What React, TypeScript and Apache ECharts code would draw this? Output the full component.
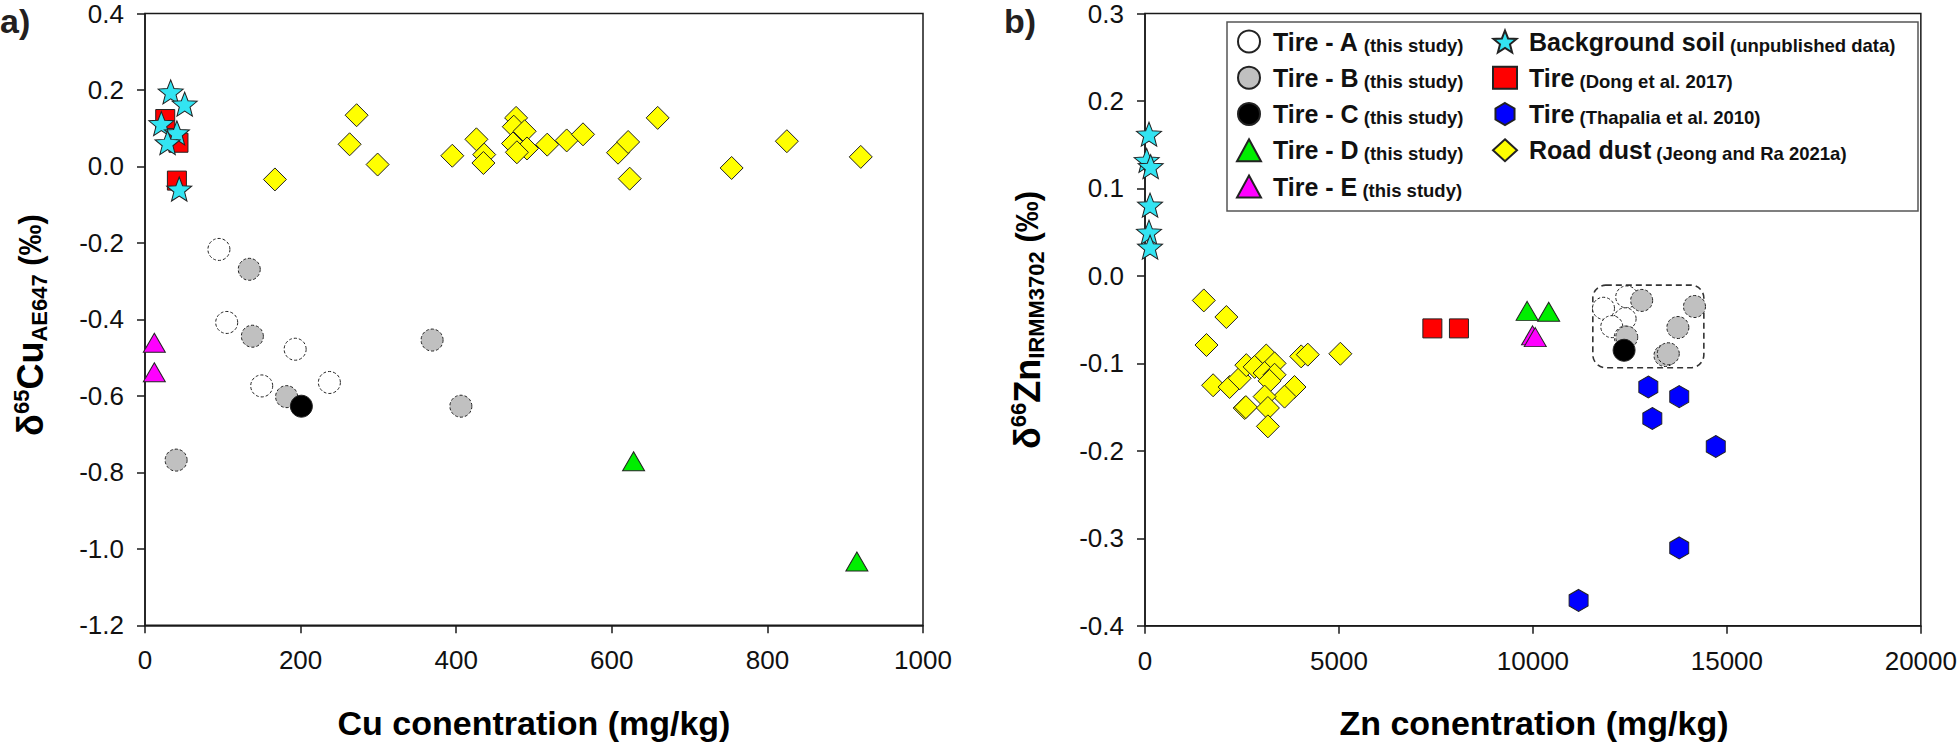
import React, { useEffect, useRef } from 'react';
import * as echarts from 'echarts';

const FONT = 'Arial, "Liberation Sans", Helvetica, sans-serif';

// ---------- names ----------
const N_A = 'Tire - A (this study)';
const N_B = 'Tire - B (this study)';
const N_C = 'Tire - C (this study)';
const N_D = 'Tire - D (this study)';
const N_E = 'Tire - E (this study)';
const N_SOIL = 'Background soil (unpublished data)';
const N_DONG = 'Tire (Dong et al. 2017)';
const N_THAP = 'Tire (Thapalia et al. 2010)';
const N_DUST = 'Road dust (Jeong and Ra 2021a)';

// ---------- axis ticks ----------
const cuTicks = { min: 0, max: 1000, interval: 200 };
const cuDeltaTicks = { min: -1.2, max: 0.4, interval: 0.2 };
const znTicks = { min: 0, max: 20000, interval: 5000 };
const znDeltaTicks = { min: -0.4, max: 0.3, interval: 0.1 };

// ---------- panel a: Cu (mg/kg), d65Cu ----------
const tireA_Cu = [[95, -0.217], [105, -0.408], [193, -0.478], [237, -0.565], [150, -0.574]];
const tireB_Cu = [[134, -0.269], [138, -0.444], [369, -0.454], [182, -0.602], [406, -0.627], [40, -0.768]];
const tireC_Cu = [[201, -0.627]];
const tireD_Cu = [[628, -0.771], [915, -1.033]];
const tireE_Cu = [[12, -0.461], [12, -0.538]];
const soil_Cu = [[33, 0.195], [51, 0.163], [21, 0.112], [41, 0.088], [29, 0.062], [44, -0.059]];
const dong_Cu = [[26, 0.124], [43, 0.062], [41, -0.037]];
const thap_Cu: number[][] = [];
const dust_Cu = [
  [167, -0.034], [263, 0.058], [272, 0.134], [299, 0.005], [395, 0.028], [426, 0.071],
  [436, 0.031], [435, 0.009], [477, 0.127], [474, 0.104], [488, 0.092], [473, 0.060],
  [491, 0.047], [478, 0.037], [517, 0.057], [542, 0.068], [563, 0.084], [608, 0.036],
  [621, 0.064], [623, -0.032], [659, 0.127], [754, -0.004], [825, 0.066], [920, 0.025],
];

// ---------- panel b: Zn (mg/kg), d66Zn ----------
const tireA_Zn = [[11819, -0.037], [12418, -0.024], [12376, -0.049], [12033, -0.058], [12380, -0.070]];
const tireB_Zn = [[12803, -0.028], [14165, -0.035], [13736, -0.059], [12418, -0.070], [13404, -0.091], [13489, -0.089]];
const tireC_Zn = [[12350, -0.085]];
const tireD_Zn = [[9850, -0.040], [10406, -0.041]];
const tireE_Zn = [[9990, -0.068], [10060, -0.070]];
const soil_Zn = [[103, 0.162], [43, 0.132], [146, 0.125], [130, 0.081], [103, 0.050], [130, 0.033]];
const dong_Zn = [[7408, -0.060], [8093, -0.060]];
const thap_Zn = [[12975, -0.127], [13772, -0.138], [13078, -0.163], [14713, -0.195], [13772, -0.311], [11177, -0.371]];
const dust_Zn = [
  [1516, -0.028], [2098, -0.047], [1585, -0.079], [4026, -0.092], [4197, -0.090], [5036, -0.089],
  [1756, -0.125], [2181, -0.127], [2441, -0.117], [2612, -0.102], [2826, -0.104], [3126, -0.091],
  [3340, -0.100], [3083, -0.111], [3340, -0.113], [3210, -0.120], [3854, -0.127], [3597, -0.138],
  [3083, -0.138], [2569, -0.151], [2600, -0.150], [3168, -0.151], [3168, -0.172],
];

// dashed grouping box in panel b (Zn, d66Zn)
const zoneBoxX = [11544, 14406];
const zoneBoxY = [-0.105, -0.0105];

// ---------- symbols ----------
const starPath = (() => {
  const pts: string[] = [];
  for (let i = 0; i < 10; i++) {
    const r = i % 2 === 0 ? 10 : 4.3;
    const a = -Math.PI / 2 + (i * Math.PI) / 5;
    pts.push(`${(r * Math.cos(a)).toFixed(3)},${(r * Math.sin(a)).toFixed(3)}`);
  }
  return 'path://M' + pts.join('L') + 'Z';
})();
const hexPath = 'path://M0,-10L8.66,-5L8.66,5L0,10L-8.66,5L-8.66,-5Z';

type Group = {
  name: string; cu: number[][]; zn: number[][]; symbol: string;
  size: number | number[]; color: string; dashed?: boolean;
};

// drawing order
const groups: Group[] = [
  { name: N_A, cu: tireA_Cu, zn: tireA_Zn, symbol: 'circle', size: 22, color: '#ffffff', dashed: true },
  { name: N_B, cu: tireB_Cu, zn: tireB_Zn, symbol: 'circle', size: 22, color: '#c0c0c0', dashed: true },
  { name: N_C, cu: tireC_Cu, zn: tireC_Zn, symbol: 'circle', size: 22, color: '#000000' },
  { name: N_D, cu: tireD_Cu, zn: tireD_Zn, symbol: 'triangle', size: [22, 19], color: '#00ee00' },
  { name: N_E, cu: tireE_Cu, zn: tireE_Zn, symbol: 'triangle', size: [22, 19], color: '#ff00ff' },
  { name: N_DONG, cu: dong_Cu, zn: dong_Zn, symbol: 'rect', size: 19, color: '#ff0000' },
  { name: N_THAP, cu: thap_Cu, zn: thap_Zn, symbol: hexPath, size: [19, 22], color: '#0000ff' },
  { name: N_DUST, cu: dust_Cu, zn: dust_Zn, symbol: 'diamond', size: 23, color: '#ffff00' },
  { name: N_SOIL, cu: soil_Cu, zn: soil_Zn, symbol: starPath, size: [25, 24], color: '#33e4f2' },
];

const legendCol1 = [N_A, N_B, N_C, N_D, N_E];
const legendCol2 = [N_SOIL, N_DONG, N_THAP, N_DUST];

function fmt1(v: number) {
  if (Math.abs(v) < 1e-9) return '0.0';
  return v.toFixed(1);
}

function makeAxes(idx: number, xt: any, yt: any, yFmt: (v: number) => string) {
  const axisLine = { show: true, onZero: false, lineStyle: { color: '#1a1a1a', width: 1.5 } };
  const axisTick = { show: true, inside: false, length: 8, lineStyle: { color: '#1a1a1a', width: 1.5 } };
  const axisLabel = { fontSize: 26, lineHeight: 22, fontFamily: FONT, color: '#111' };
  return {
    x: {
      type: 'value', gridIndex: idx, min: xt.min, max: xt.max, interval: xt.interval,
      axisLine, axisTick, splitLine: { show: false },
      axisLabel: { ...axisLabel, margin: 24, formatter: (v: number) => String(Math.round(v)) },
    },
    y: {
      type: 'value', gridIndex: idx, min: yt.min, max: yt.max, interval: yt.interval,
      axisLine, axisTick, splitLine: { show: false },
      axisLabel: { ...axisLabel, margin: 21, padding: [5, 0, 0, 0], formatter: yFmt },
    },
  };
}

function legendFormatter(name: string) {
  const i = name.indexOf('(');
  const main = name.slice(0, i).trim();
  const sub = name.slice(i);
  return `{b|${main}}{s| ${sub}}`;
}

const legendRich = {
  b: { fontSize: 25, fontWeight: 'bold', fontFamily: FONT, color: '#111', lineHeight: 26, padding: [0, 0, 0, 7] },
  s: { fontSize: 18.5, fontWeight: 'bold', fontFamily: FONT, color: '#111', lineHeight: 22, verticalAlign: 'bottom' },
};

function legendFor(names: string[], left: number) {
  return {
    show: true,
    orient: 'vertical',
    left, top: 29,
    padding: 0,
    itemWidth: 24, itemHeight: 22,
    itemGap: 10.75,
    selectedMode: false,
    symbolKeepAspect: true,
    formatter: legendFormatter,
    textStyle: { fontFamily: FONT, color: '#111', rich: legendRich },
    data: names.map((n) => {
      const g = groups.find((x) => x.name === n)!;
      return { name: n, icon: g.symbol };
    }),
  };
}

function titleRich() {
  return {
    d: { fontSize: 36, fontWeight: 'bold', fontFamily: FONT, fill: '#000', lineHeight: 40 },
    sup: { fontSize: 22, fontWeight: 'bold', fontFamily: FONT, fill: '#000', lineHeight: 22, verticalAlign: 'top' },
    m: { fontSize: 36, fontWeight: 'bold', fontFamily: FONT, fill: '#000', lineHeight: 40 },
    sub: { fontSize: 22, fontWeight: 'bold', fontFamily: FONT, fill: '#000', lineHeight: 22, verticalAlign: 'bottom' },
    p: { fontSize: 31, fontWeight: 'bold', fontFamily: FONT, fill: '#000', lineHeight: 40 },
  };
}

export default function App() {
  const ref = useRef<HTMLDivElement>(null);

  useEffect(() => {
    if (!ref.current) return;
    const chart = echarts.init(ref.current, undefined, { renderer: 'svg' });

    const a0 = makeAxes(0, cuTicks, cuDeltaTicks, fmt1);
    const a1 = makeAxes(1, znTicks, znDeltaTicks, fmt1);

    const series: any[] = [];
    groups.forEach((g, i) => {
      const itemStyle = {
        color: g.color,
        borderColor: '#222',
        borderWidth: 1,
        borderType: g.dashed ? [3, 2] : 'solid',
        opacity: 1,
      };
      [0, 1].forEach((gi) => {
        series.push({
          type: 'scatter',
          name: g.name,
          xAxisIndex: gi,
          yAxisIndex: gi,
          data: gi === 0 ? g.cu : g.zn,
          symbol: g.symbol,
          symbolSize: g.size,
          itemStyle,
          emphasis: { disabled: true },
          z: 2 + i * 0.01,
        });
      });
    });

    const option: any = {
      animation: false,
      backgroundColor: '#ffffff',
      grid: [
        { left: 145, top: 13.3, width: 778, height: 612, show: true, borderColor: '#1a1a1a', borderWidth: 1.5, backgroundColor: 'transparent' },
        { left: 1145, top: 13.3, width: 778, height: 612.5, show: true, borderColor: '#1a1a1a', borderWidth: 1.5, backgroundColor: 'transparent' },
      ],
      xAxis: [a0.x, a1.x],
      yAxis: [a0.y, a1.y],
      legend: [legendFor(legendCol1, 1236), legendFor(legendCol2, 1492)],
      series,
    };
    chart.setOption(option);

    const p0 = chart.convertToPixel({ gridIndex: 1 } as any, [zoneBoxX[0], zoneBoxY[1]]) as number[];
    const p1 = chart.convertToPixel({ gridIndex: 1 } as any, [zoneBoxX[1], zoneBoxY[0]]) as number[];

    chart.setOption({
      graphic: [
        {
          type: 'rect', z: 1,
          shape: { x: p0[0], y: p0[1], width: p1[0] - p0[0], height: p1[1] - p0[1], r: 13 },
          style: { fill: 'none', stroke: '#333', lineWidth: 1.6, lineDash: [6, 4] },
          silent: true,
        },
        {
          type: 'rect', z: 0,
          shape: { x: 1227, y: 22, width: 691, height: 189 },
          style: { fill: '#ffffff', stroke: '#555', lineWidth: 1.5 },
          silent: true,
        },
        {
          type: 'text', x: 0, y: 4,
          style: { text: 'a)', fontSize: 34, fontWeight: 'bold', fontFamily: FONT, fill: '#231f20', align: 'left', verticalAlign: 'top' },
        },
        {
          type: 'text', x: 1004, y: 4,
          style: { text: 'b)', fontSize: 34, fontWeight: 'bold', fontFamily: FONT, fill: '#231f20', align: 'left', verticalAlign: 'top' },
        },
        {
          type: 'text', x: 534, y: 723,
          style: { text: 'Cu conentration (mg/kg)', fontSize: 34, fontWeight: 'bold', fontFamily: FONT, fill: '#000', align: 'center', verticalAlign: 'middle' },
        },
        {
          type: 'text', x: 1534, y: 723,
          style: { text: 'Zn conentration (mg/kg)', fontSize: 34, fontWeight: 'bold', fontFamily: FONT, fill: '#000', align: 'center', verticalAlign: 'middle' },
        },
        {
          type: 'text', x: 30, y: 325, rotation: Math.PI / 2,
          style: {
            text: '{d|δ}{sup|65}{m|Cu}{sub|AE647}{p| (‰)}',
            rich: titleRich(), align: 'center', verticalAlign: 'middle',
          },
        },
        {
          type: 'text', x: 1027, y: 320, rotation: Math.PI / 2,
          style: {
            text: '{d|δ}{sup|66}{m|Zn}{sub|IRMM3702}{p| (‰)}',
            rich: titleRich(), align: 'center', verticalAlign: 'middle',
          },
        },
      ],
    });

    return () => chart.dispose();
  }, []);

  return (
    <div
      ref={ref}
      style={{ position: 'fixed', left: 0, top: 0, width: 1960, height: 745, background: '#fff' }}
    />
  );
}
